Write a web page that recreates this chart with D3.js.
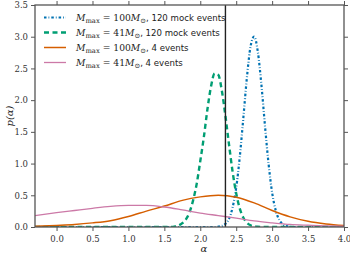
<!DOCTYPE html>
<html>
<head>
<meta charset="utf-8">
<script src="https://cdn.jsdelivr.net/npm/d3@7"></script>
<style>
body{margin:0;background:#fff;}
svg{display:block;}
.tick text{font-family:"DejaVu Serif",serif;font-size:8.5px;fill:#333;}
</style>
</head>
<body>
<svg id="chart" width="350" height="256"></svg>
<script>
// curves: [alpha, p(alpha)]
var blue100x120 = [[-0.3,0],[2.2,0],[2.3,0.017],[2.35,0.05],[2.4,0.13],[2.45,0.31],[2.5,0.62],[2.55,1.11],[2.6,1.73],[2.65,2.37],[2.7,2.85],[2.75,3.0],[2.8,2.77],[2.85,2.25],[2.9,1.6],[2.95,1.0],[3.0,0.54],[3.05,0.26],[3.1,0.11],[3.15,0.04],[3.2,0.013],[3.3,0],[4.0,0]];
var green41x120 = [[-0.3,0],[1.6,0],[1.65,0.01],[1.7,0.025],[1.75,0.06],[1.8,0.12],[1.85,0.23],[1.9,0.42],[1.95,0.68],[2.0,1.04],[2.05,1.42],[2.1,1.86],[2.15,2.22],[2.2,2.42],[2.25,2.4],[2.3,2.15],[2.35,1.75],[2.4,1.3],[2.45,0.87],[2.5,0.53],[2.55,0.29],[2.6,0.145],[2.65,0.066],[2.7,0.027],[2.75,0.01],[2.8,0.003],[2.9,0],[4.0,0]];
var orange100x4 = [[-0.3,0.01],[0,0.025],[0.25,0.04],[0.5,0.065],[0.75,0.1],[1.0,0.165],[1.25,0.25],[1.5,0.33],[1.75,0.42],[2.0,0.475],[2.25,0.5],[2.5,0.47],[2.75,0.38],[3.0,0.26],[3.25,0.16],[3.5,0.09],[3.75,0.048],[4.0,0.022]];
var pink41x4 = [[-0.3,0.18],[0,0.225],[0.25,0.26],[0.5,0.295],[0.75,0.325],[1.0,0.34],[1.25,0.34],[1.5,0.315],[1.75,0.27],[2.0,0.22],[2.25,0.18],[2.5,0.14],[2.75,0.095],[3.0,0.065],[3.25,0.04],[3.5,0.028],[3.75,0.018],[4.0,0.012]];
var salpeter = 2.35;//vertical line

var xTicks = [0.0,0.5,1.0,1.5,2.0,2.5,3.0,3.5,4.0];
var yTicks = [0.0,0.5,1.0,1.5,2.0,2.5,3.0,3.5];
var legendMass = ["100", "41", "100", "41"];
var legendTail = [", 120 mock events", ", 120 mock events", ", 4 events", ", 4 events"];

var series = [
  {data: blue100x120, color: "#0072B2", width: 2.2, dash: "2.5,2,0.8,2"},
  {data: green41x120, color: "#009E73", width: 2.4, dash: "5,3.5"},
  {data: orange100x4, color: "#D55E00", width: 1.5, dash: null},
  {data: pink41x4, color: "#CC79A7", width: 1.3, dash: null}
];

var svg = d3.select("#chart");
var margin = {top: 5, right: 6, bottom: 29, left: 35};
var width = 350 - margin.left - margin.right;
var height = 256 - margin.top - margin.bottom;
var g = svg.append("g").attr("transform", "translate(" + margin.left + "," + margin.top + ")");

var x = d3.scaleLinear().domain([-0.3, 4.0]).range([0, width]);
var y = d3.scaleLinear().domain([0, 3.5]).range([height, 0]);

svg.append("defs").append("clipPath").attr("id", "clip")
  .append("rect").attr("width", width).attr("height", height);

var line = d3.line()
  .x(function(d) { return x(d[0]); })
  .y(function(d) { return y(d[1]); })
  .curve(d3.curveMonotoneX);

var plot = g.append("g").attr("clip-path", "url(#clip)");

plot.selectAll("path.curve")
  .data(series)
  .enter().append("path")
  .attr("class", "curve")
  .attr("d", function(d) { return line(d.data); })
  .attr("fill", "none")
  .attr("stroke", function(d) { return d.color; })
  .attr("stroke-width", function(d) { return d.width; })
  .attr("stroke-dasharray", function(d) { return d.dash; });

plot.append("line")
  .attr("x1", x(salpeter)).attr("x2", x(salpeter))
  .attr("y1", 0).attr("y2", height)
  .attr("stroke", "#222").attr("stroke-width", 1.4);

// axes on all four sides, ticks outward
function styleAxis(sel) {
  sel.select(".domain").remove();
  sel.selectAll(".tick line").attr("stroke", "#555").attr("stroke-width", 1);
}
g.append("g").attr("transform", "translate(0," + height + ")")
  .call(d3.axisBottom(x).tickValues(xTicks).tickFormat(d3.format(".1f")).tickSize(4).tickPadding(5))
  .call(styleAxis);
g.append("g")
  .call(d3.axisLeft(y).tickValues(yTicks).tickFormat(d3.format(".1f")).tickSize(4).tickPadding(3))
  .call(styleAxis);
g.append("g")
  .call(d3.axisTop(x).tickValues(xTicks).tickFormat("").tickSize(4))
  .call(styleAxis);
g.append("g").attr("transform", "translate(" + width + ",0)")
  .call(d3.axisRight(y).tickValues(yTicks).tickFormat("").tickSize(4))
  .call(styleAxis);

g.append("rect")
  .attr("width", width).attr("height", height)
  .attr("fill", "none").attr("stroke", "#555").attr("stroke-width", 1.3);

// axis labels
svg.append("text")
  .attr("x", margin.left + x(2.05)).attr("y", 252)
  .attr("text-anchor", "middle")
  .attr("font-family", "DejaVu Serif, serif").attr("font-style", "italic")
  .attr("font-size", 10).attr("fill", "#222")
  .text("α");
svg.append("text")
  .attr("transform", "translate(13," + (margin.top + height / 2) + ") rotate(-90)")
  .attr("text-anchor", "middle")
  .attr("font-family", "DejaVu Serif, serif").attr("font-style", "italic")
  .attr("font-size", 10).attr("fill", "#222")
  .text("p(α)");

// legend
var legend = g.append("g")
  .selectAll("g")
  .data(series)
  .enter().append("g")
  .attr("transform", function(d, i) { return "translate(9," + (12.5 + i * 15) + ")"; });

legend.append("line")
  .attr("x1", 0).attr("x2", 22).attr("y1", 0).attr("y2", 0)
  .attr("stroke", function(d) { return d.color; })
  .attr("stroke-width", function(d) { return d.width; })
  .attr("stroke-dasharray", function(d) { return d.dash; });

var lt = legend.append("text")
  .attr("x", 32).attr("y", 3.5)
  .attr("font-family", "DejaVu Serif, serif").attr("font-size", 9.2).attr("fill", "#222");
lt.append("tspan").attr("font-style", "italic").text("M");
lt.append("tspan").attr("font-size", 6.8).attr("dy", 2).text("max");
lt.append("tspan").attr("dy", -2).text(function(d, i) { return " = " + legendMass[i]; });
lt.append("tspan").attr("font-style", "italic").text("M");
lt.append("tspan").attr("font-size", 6.8).attr("dy", 2).text("⊙");
lt.append("tspan").attr("dy", -2)
  .attr("font-family", "DejaVu Sans, sans-serif").attr("font-size", 8.6)
  .text(function(d, i) { return legendTail[i]; });
</script>
</body>
</html>
